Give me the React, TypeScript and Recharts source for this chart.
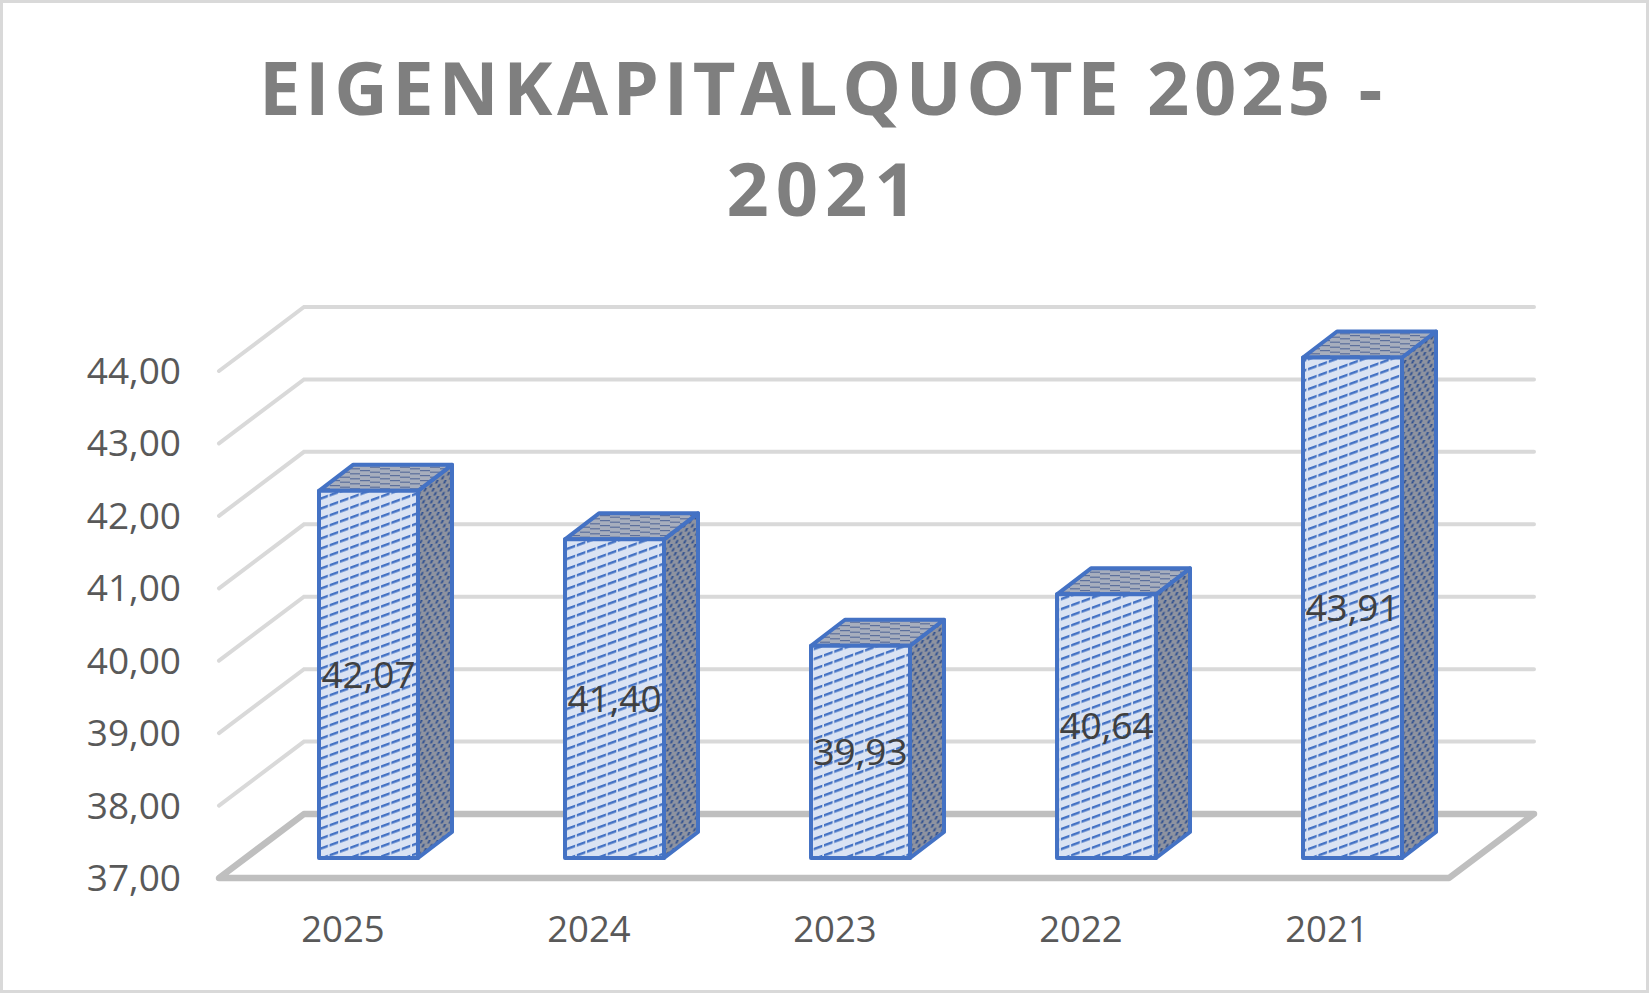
import { BarChart, Bar, XAxis, YAxis, CartesianGrid, LabelList } from 'recharts';

const YEARS = ['2025', '2024', '2023', '2022', '2021'];
const QUOTES = [42.07, 41.4, 39.93, 40.64, 43.91];
const Y_TICKS = [37, 38, 39, 40, 41, 42, 43, 44];

const chartData = YEARS.map((year, i) => ({ year, quote: QUOTES[i] }));

const FONT = '"Open Sans", sans-serif';
const BLUE = '#4472c4';

// fake 3D depth
const PLOT_LEFT = 245;
const PLOT_RIGHT = 1475;
const PLOT_BOTTOM = 858;
const BAR_DX = 34;
const BAR_DY = 26;
const FRONT_DX = 26; // floor front edge sits in front of the bars
const FRONT_DY = 20;
const BACK_DX = 59;
const BACK_DY = 44;

const fmt = (v: number) => v.toFixed(2).replace('.', ',');

function Box(props: any) {
  const { x, y, width, height } = props;
  const r = x + width;
  const b = y + height;
  return (
    <g stroke={BLUE} strokeWidth={4} strokeLinejoin="round">
      <polygon
        points={`${r},${y} ${r + BAR_DX},${y - BAR_DY} ${r + BAR_DX},${b - BAR_DY} ${r},${b}`}
        fill="url(#sidePat)"
      />
      <polygon
        points={`${x},${y} ${x + BAR_DX},${y - BAR_DY} ${r + BAR_DX},${y - BAR_DY} ${r},${y}`}
        fill="url(#topPat)"
      />
      <rect x={x} y={y} width={width} height={height} fill="url(#frontPat)" />
    </g>
  );
}

function GridLine(props: any) {
  const y = props.y1;
  const fx = PLOT_LEFT - FRONT_DX;
  const fy = y + FRONT_DY;
  const bx = PLOT_LEFT + BACK_DX;
  const by = y - BACK_DY;
  const br = PLOT_RIGHT + BACK_DX;
  if (Math.abs(y - PLOT_BOTTOM) < 1) {
    return (
      <polygon
        points={`${fx},${fy} ${bx},${by} ${br},${by} ${PLOT_RIGHT - FRONT_DX},${fy}`}
        fill="none"
        stroke="#bfbfbf"
        strokeWidth={6.5}
        strokeLinejoin="round"
      />
    );
  }
  return (
    <polyline
      points={`${fx},${fy} ${bx},${by} ${br},${by}`}
      fill="none"
      stroke="#d9d9d9"
      strokeWidth={4}
      strokeLinecap="round"
    />
  );
}

function ValueTick(props: any) {
  const { y, payload } = props;
  return (
    <text x={181} y={y + FRONT_DY + 13} textAnchor="end" fontFamily={FONT} fontSize={37} fill="#595959">
      {fmt(payload.value)}
    </text>
  );
}

function YearTick(props: any) {
  const { x, y, payload } = props;
  return (
    <text x={x - 25} y={y + 76} textAnchor="middle" fontFamily={FONT} fontSize={36.5} fill="#595959">
      {payload.value}
    </text>
  );
}

export default function App() {
  return (
    <div style={{ position: 'absolute', left: 0, top: 0, width: 1649, height: 993, boxSizing: 'border-box', border: '3px solid #d9d9d9', background: '#fff' }}>
      <div style={{ position: 'absolute', left: -3, top: -3 }}>
        <BarChart
          width={1649}
          height={993}
          data={chartData}
          margin={{ top: 351, right: 174, bottom: 0, left: 0 }}
        >
          <defs>
            <pattern id="frontPat" patternUnits="userSpaceOnUse" width={10.3} height={10} patternTransform="skewY(-20)">
              <rect width={10.3} height={10} fill="#dae3f3" />
              <rect x={0} y={4} width={8.6} height={2.6} fill={BLUE} />
            </pattern>
            <pattern id="sidePat" patternUnits="userSpaceOnUse" width={8} height={8} patternTransform="skewX(-25)">
              <rect width={8} height={8} fill="#8e93a0" />
              <rect x={0.5} y={4} width={2} height={3.5} fill="#2f4f8f" />
              <rect x={4.5} y={0} width={2} height={3.5} fill="#2f4f8f" />
            </pattern>
            <pattern id="topPat" patternUnits="userSpaceOnUse" width={30} height={5}>
              <rect width={30} height={5} fill="#a7aebd" />
              <rect x={0} y={0} width={10} height={1.2} fill="#5b6f9c" />
              <rect x={10} y={1.6} width={10} height={1.2} fill="#5b6f9c" />
              <rect x={20} y={3.2} width={10} height={1.2} fill="#5b6f9c" />
            </pattern>
          </defs>
          <text x={823} y={115} textAnchor="middle" fontFamily={FONT} fontWeight={700} fontSize={74} letterSpacing={4.6} fill="#7f7f7f">
            EIGENKAPITALQUOTE 2025 -
          </text>
          <text x={825} y={216} textAnchor="middle" fontFamily={FONT} fontWeight={700} fontSize={74} letterSpacing={7} fill="#7f7f7f">
            2021
          </text>
          <CartesianGrid vertical={false} horizontal={(p: any) => <GridLine key={p.key ?? p.y1} {...p} />} />
          <XAxis dataKey="year" height={135} axisLine={false} tickLine={false} tick={<YearTick />} interval={0} />
          <YAxis
            width={245}
            domain={[37, 44]}
            ticks={Y_TICKS}
            interval={0}
            axisLine={false}
            tickLine={false}
            tick={<ValueTick />}
          />
          <Bar dataKey="quote" barSize={99} shape={<Box />} isAnimationActive={false}>
            <LabelList dataKey="quote" position="center" formatter={fmt} fontFamily={FONT} fontSize={37} fill="#404040" />
          </Bar>
        </BarChart>
      </div>
    </div>
  );
}
